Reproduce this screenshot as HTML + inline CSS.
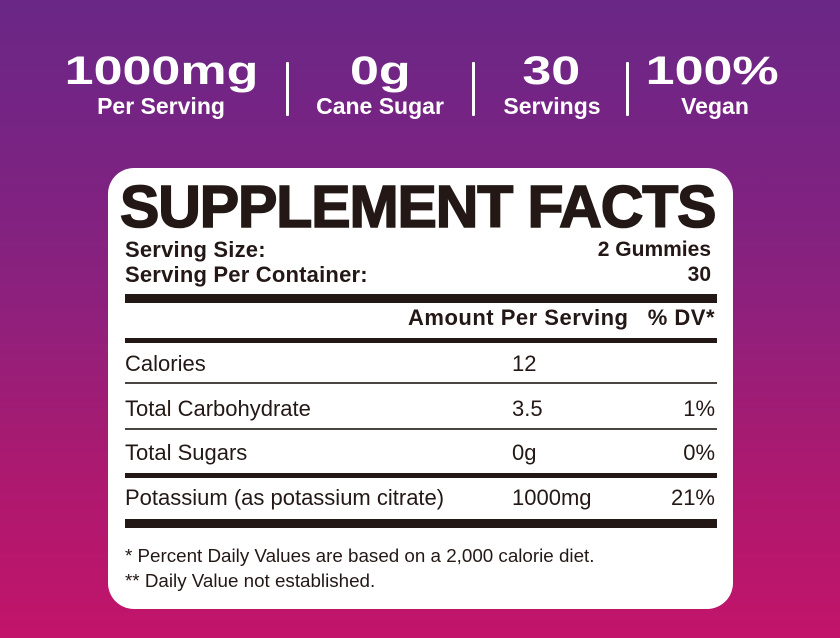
<!DOCTYPE html>
<html><head><meta charset="utf-8">
<style>
html,body{margin:0;padding:0;}
body{width:840px;height:638px;overflow:hidden;position:relative;
background:linear-gradient(180deg,#6a2786 0%,#7a2383 25%,#90207c 50%,#aa1a70 72%,#c2146a 100%);
font-family:"Liberation Sans",sans-serif;}
.a{position:absolute;white-space:nowrap;line-height:1;}
.stat{color:#fff;font-weight:bold;text-align:center;width:200px;}
.num{font-size:40px;}
.num span{display:inline-block;transform:scaleX(1.3);}
.lbl{font-size:23px;}
.div{position:absolute;width:3px;background:#fff;top:62px;height:54px;border-radius:1px;}
.card{position:absolute;left:108px;top:168px;width:625px;height:441px;background:#fff;border-radius:26px;}
.k{color:#231815;}
.b{font-weight:bold;}
.bar{position:absolute;left:125px;width:592px;background:#231815;}
.r{font-size:22px;color:#231815;}
.rt{text-align:right;}
</style></head><body>

<div class="a stat num" style="left:61px;top:51px;"><span>1000mg</span></div>
<div class="a stat lbl" style="left:61px;top:95px;">Per Serving</div>
<div class="div" style="left:286px;"></div>
<div class="a stat num" style="left:280px;top:51px;"><span>0g</span></div>
<div class="a stat lbl" style="left:280px;top:95px;">Cane Sugar</div>
<div class="div" style="left:472px;"></div>
<div class="a stat num" style="left:451px;top:51px;"><span>30</span></div>
<div class="a stat lbl" style="left:452px;top:95px;">Servings</div>
<div class="div" style="left:626px;"></div>
<div class="a stat num" style="left:612px;top:51px;"><span>100%</span></div>
<div class="a stat lbl" style="left:615px;top:95px;">Vegan</div>

<div class="card"></div>

<div class="a k b" style="left:120px;top:178px;font-size:59px;letter-spacing:-1.1px;-webkit-text-stroke:1.6px #231815;">SUPPLEMENT FACTS</div>

<div class="a k b" style="left:125px;top:239px;font-size:22px;letter-spacing:0.2px;">Serving Size:</div>
<div class="a k b rt" style="left:511px;width:200px;top:239px;font-size:21px;">2 Gummies</div>
<div class="a k b" style="left:125px;top:264px;font-size:22px;letter-spacing:0.2px;">Serving Per Container:</div>
<div class="a k b rt" style="left:511px;width:200px;top:264px;font-size:21px;">30</div>
<div class="bar" style="top:294px;height:9px;"></div>

<div class="a k b" style="left:408px;top:307px;font-size:22px;letter-spacing:0.5px;">Amount Per Serving</div>
<div class="a k b rt" style="left:605px;width:110px;top:307px;font-size:22px;letter-spacing:0.5px;">% DV*</div>
<div class="bar" style="top:338px;height:5px;"></div>

<div class="a r" style="left:125px;top:353px;">Calories</div>
<div class="a r" style="left:512px;top:353px;">12</div>
<div class="bar" style="top:382px;height:2px;background:#4a4442;"></div>

<div class="a r" style="left:125px;top:398px;">Total Carbohydrate</div>
<div class="a r" style="left:512px;top:398px;">3.5</div>
<div class="a r rt" style="left:615px;width:100px;top:398px;">1%</div>
<div class="bar" style="top:428px;height:2px;background:#4a4442;"></div>

<div class="a r" style="left:125px;top:442px;">Total Sugars</div>
<div class="a r" style="left:512px;top:442px;">0g</div>
<div class="a r rt" style="left:615px;width:100px;top:442px;">0%</div>
<div class="bar" style="top:473px;height:5px;"></div>

<div class="a r" style="left:125px;top:487px;">Potassium (as potassium citrate)</div>
<div class="a r" style="left:512px;top:487px;">1000mg</div>
<div class="a r rt" style="left:615px;width:100px;top:487px;">21%</div>
<div class="bar" style="top:519px;height:9px;"></div>

<div class="a k" style="left:125px;top:547px;font-size:18.8px;">* Percent Daily Values are based on a 2,000 calorie diet.</div>
<div class="a k" style="left:125px;top:572px;font-size:18.8px;">** Daily Value not established.</div>

</body></html>
